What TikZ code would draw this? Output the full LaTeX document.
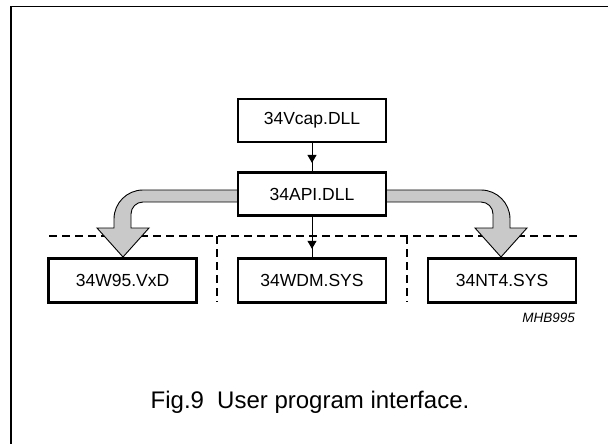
\documentclass[tikz,border=0pt]{standalone}
\usepackage{fontspec}
\setmainfont{Liberation Sans}
\usetikzlibrary{arrows.meta,calc}
\begin{document}
\begin{tikzpicture}[x=1pt,y=-1pt,
  box/.style={draw,line width=2.2pt,fill=white,minimum width=148pt,minimum height=43pt,inner sep=0pt,font=\fontsize{17.5}{20}\selectfont},
  lowbox/.style={box,minimum height=44pt},
  dsh/.style={line width=1.1pt,dash pattern=on 8pt off 5pt},
  fat/.style={fill=black!21,draw=black,line width=0.9pt,line join=miter},
  thinline/.style={line width=1pt},
  tip/.style={-{Triangle[length=8pt,width=9pt]}}
]
\useasboundingbox (0,0) rectangle (608,444);
% frame
\draw[line width=1.5pt] (11,444) -- (11,6.5) -- (608,6.5);

% dashed separators
\coordinate (dl) at (49,236);
\coordinate (dr) at (577,236);
\coordinate (v1t) at (217,236);
\coordinate (v1b) at (217,302);
\coordinate (v2t) at (407,236);
\coordinate (v2b) at (407,302);
\draw[dsh] (dl) -- (dr);
\draw[dsh] (v1t) -- (v1b);
\draw[dsh] (v2t) -- (v2b);

% fat grey arrows
\path[fat] (240,190) -- (143,190) .. controls (127,190) and (114,203) .. (114,219)
  -- (114,228) -- (97,228) -- (123,257) -- (149,228) -- (131,228) -- (131,214)
  .. controls (131,207.4) and (136.4,202) .. (143,202) -- (240,202) -- cycle;
\begin{scope}[xshift=624pt,xscale=-1]
\path[fat] (240,190) -- (143,190) .. controls (127,190) and (114,203) .. (114,219)
  -- (114,228) -- (97,228) -- (123,257) -- (149,228) -- (131,228) -- (131,214)
  .. controls (131,207.4) and (136.4,202) .. (143,202) -- (240,202) -- cycle;
\end{scope}

% boxes
\node[box] (vcap) at (312,120.5) {34Vcap.DLL};
\node[box] (api) at (312,194) {34API.DLL};
\node[lowbox] (w95) at (122.5,280.5) {34W95.VxD};
\node[lowbox] (wdm) at (312,280.5) {34WDM.SYS};
\node[lowbox] (nt4) at (502,280.5) {34NT4.SYS};

% thin arrows
\draw[thinline] (vcap.south) -- (api.north);
\draw[thinline,tip] (vcap.south) -- ($(vcap.south)!0.7!(api.north)$);
\draw[thinline] (api.south) -- (wdm.north);
\draw[thinline,tip] (api.south) -- ($(api.south)!0.79!(wdm.north)$);

% labels
\node[font=\fontsize{13.5}{16}\selectfont\itshape,anchor=base east,inner sep=0pt] (mhb) at (575,322) {MHB995};
\node[font=\fontsize{24}{28}\selectfont,anchor=base,inner sep=0pt] (cap) at (310,408) {Fig.9\hspace{0.55em}User program interface.};
\end{tikzpicture}
\end{document}
